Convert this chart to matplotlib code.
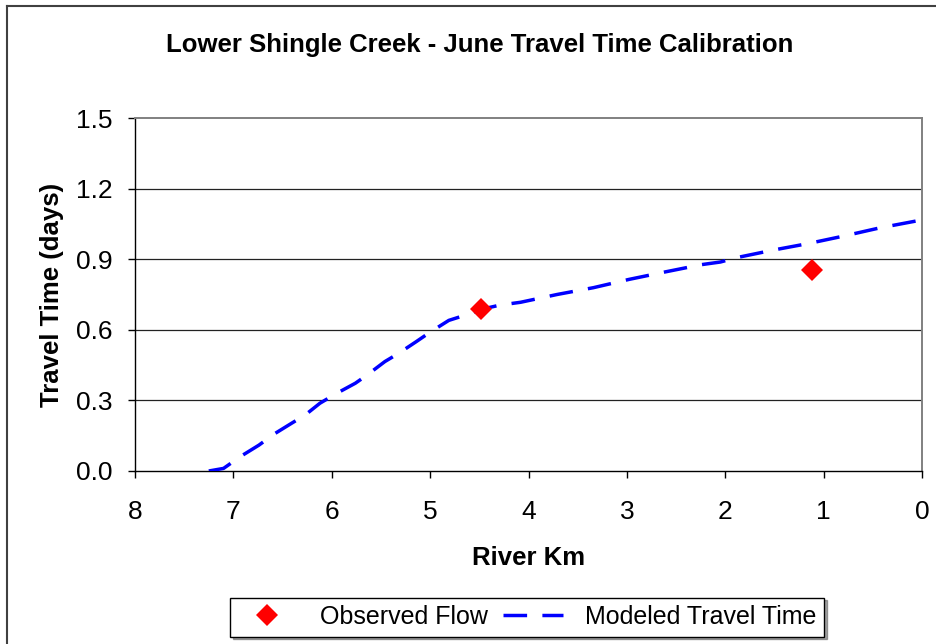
import numpy as np
import matplotlib
matplotlib.use("Agg")
import matplotlib.pyplot as plt
from matplotlib.lines import Line2D

plt.rcParams['font.family'] = ['Liberation Sans', 'DejaVu Sans']

# modeled travel time along the river (km, days)
model_km = [7.25, 7.10, 6.93, 6.74, 6.59, 6.40, 6.27, 6.12, 5.95, 5.76, 5.64,
            5.46, 5.32, 5.14, 5.00, 4.81, 4.66, 4.48, 4.29, 4.08, 3.71, 3.34,
            2.98, 2.61, 2.24, 2.05, 1.88, 1.51, 1.15, 0.80, 0.43, 0.00]
model_days = [0.0, 0.011, 0.061, 0.11, 0.156, 0.205, 0.238, 0.288, 0.33, 0.373,
              0.408, 0.465, 0.50, 0.55, 0.59, 0.64, 0.66, 0.687, 0.705, 0.717,
              0.75, 0.779, 0.814, 0.846, 0.877, 0.888, 0.907, 0.939, 0.967,
              0.998, 1.033, 1.067]

# observed points
obs_km = [4.48, 1.12]
obs_days = [0.687, 0.854]

x_ticks = [8, 7, 6, 5, 4, 3, 2, 1, 0]
y_ticks = [0.0, 0.3, 0.6, 0.9, 1.2, 1.5]

W, H = 936, 644
fig = plt.figure(figsize=(W/100, H/100), dpi=100)
ax = fig.add_axes([135/W, 1-471/H, (922-135)/W, (471-118)/H])

ax.plot(obs_km, obs_days, linestyle='none', marker='D', ms=11, color='#ff0000',
        markeredgewidth=0, label='Observed Flow', zorder=4)
ax.plot(model_km, model_days, color='#0000ff', lw=2.5,
        linestyle=(0, (6.8, 4.4)), label='Modeled Travel Time', zorder=3)

ax.set_xlim(8, 0)
ax.set_ylim(0, 1.5)
ax.set_xticks(x_ticks)
ax.set_yticks(y_ticks)
ax.set_yticklabels(['%.1f' % v for v in y_ticks])
ax.tick_params(axis='both', direction='out', length=5, width=1, labelsize=19,
               color='black')
ax.tick_params(axis='x', pad=16)
ax.tick_params(axis='y', pad=11)

for v in y_ticks[1:-1]:
    ax.axhline(v, color='#222222', lw=0.9, zorder=1)

ax.spines['top'].set_color('#808080')
ax.spines['right'].set_color('#808080')
ax.spines['top'].set_linewidth(1.4)
ax.spines['right'].set_linewidth(1.4)
ax.spines['left'].set_linewidth(1.0)
ax.spines['bottom'].set_linewidth(1.0)

ax.set_xlabel('River Km', fontsize=18.5, fontweight='bold', labelpad=16)
ax.set_ylabel('Travel Time (days)', fontsize=18.5, fontweight='bold', labelpad=9)

fig.text(480/W, 1-45/H, 'Lower Shingle Creek - June Travel Time Calibration',
         ha='center', va='center', fontsize=18.5, fontweight='bold')

leg = ax.legend(loc='center', bbox_to_anchor=(527/W, 1-617/H),
                bbox_transform=fig.transFigure, ncol=2, fontsize=18,
                frameon=True, fancybox=False, shadow=True, handlelength=2.4,
                columnspacing=0.6, handletextpad=0.9, borderpad=0.3)
leg.get_frame().set_edgecolor('black')
leg.get_frame().set_linewidth(1.0)

# outer chart border
fig.add_artist(Line2D([7/W, 7/W], [0, 1-6/H], transform=fig.transFigure,
                      color='#404040', lw=1.5))
fig.add_artist(Line2D([7/W, 1], [1-6/H, 1-6/H], transform=fig.transFigure,
                      color='#404040', lw=1.5))

fig.savefig('out.png', dpi=100, facecolor='white')
